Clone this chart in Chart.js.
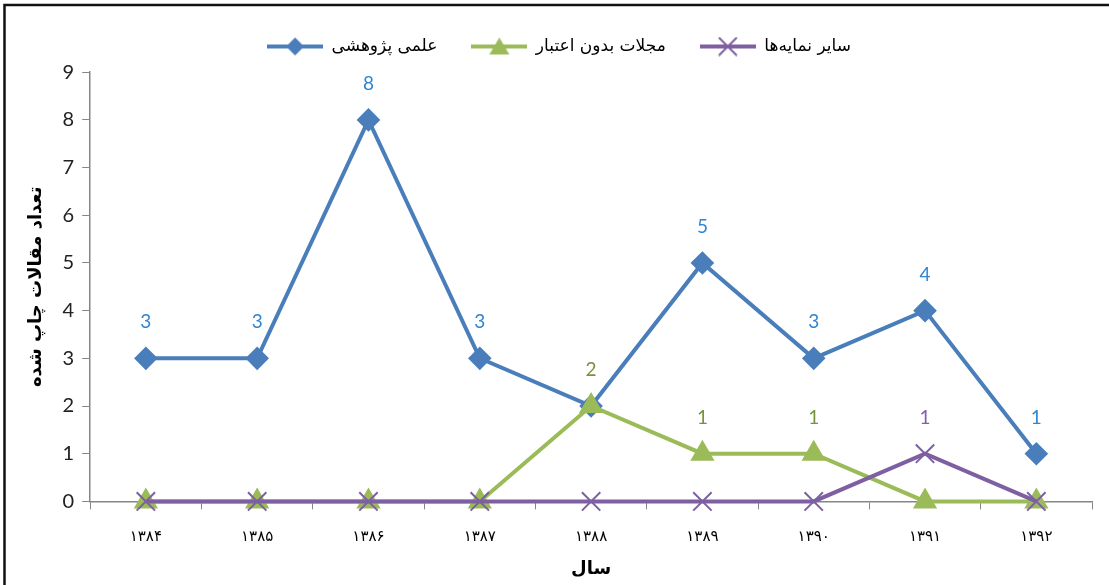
<!DOCTYPE html>
<html>
<head>
<meta charset="utf-8">
<script src="https://cdn.jsdelivr.net/npm/chart.js@4/dist/chart.umd.min.js"></script>
<style>
  body { margin: 0; background: #fff; }
  #wrap { width: 1109px; height: 585px; }
</style>
</head>
<body>
<div id="wrap"><canvas id="papersChart" width="1109" height="585"></canvas></div>
<script>
const years = ["۱۳۸۴", "۱۳۸۵", "۱۳۸۶", "۱۳۸۷", "۱۳۸۸", "۱۳۸۹", "۱۳۹۰", "۱۳۹۱", "۱۳۹۲"];
const scientific = [3, 3, 8, 3, 2, 5, 3, 4, 1];
const unaccredited = [0, 0, 0, 0, 2, 1, 1, 0, 0];
const otherIndexes = [0, 0, 0, 0, 0, 0, 0, 1, 0];
// which points carry a value label in the original
const scientificLabels = [true, true, true, true, false, true, true, true, true];
const unaccreditedLabels = [false, false, false, false, true, true, true, false, false];
const otherLabels = [false, false, false, false, false, false, false, true, false];
const yTicks = [0, 1, 2, 3, 4, 5, 6, 7, 8, 9];

const blue = "#4a7ebb";
const green = "#9bbb59";
const purple = "#7d5fa2";
const persianFont = "'DejaVu Sans', sans-serif";

// small line + marker swatch for the legend
function legendSwatch(color, style) {
    const c = document.createElement("canvas");
    c.width = 56;
    c.height = 20;
    const g = c.getContext("2d");
    g.strokeStyle = color;
    g.fillStyle = color;
    g.lineWidth = 4;
    g.beginPath();
    g.moveTo(0, 10);
    g.lineTo(56, 10);
    g.stroke();
    g.beginPath();
    if (style === "rectRot") {
        g.moveTo(28, 1); g.lineTo(37, 10); g.lineTo(28, 19); g.lineTo(19, 10);
        g.closePath(); g.fill();
    } else if (style === "triangle") {
        g.moveTo(28, 1); g.lineTo(38, 18); g.lineTo(18, 18);
        g.closePath(); g.fill();
    } else {
        g.lineWidth = 2;
        g.moveTo(19, 1); g.lineTo(37, 19);
        g.moveTo(37, 1); g.lineTo(19, 19);
        g.stroke();
    }
    return c;
}

const valueLabels = {
    id: "valueLabels",
    afterDatasetsDraw(chart) {
        const ctx = chart.ctx;
        ctx.save();
        ctx.font = "19px Lato, sans-serif";
        ctx.textAlign = "center";
        ctx.textBaseline = "middle";
        chart.data.datasets.forEach((ds, di) => {
            const meta = chart.getDatasetMeta(di);
            ctx.fillStyle = ds.labelColor;
            meta.data.forEach((pt, i) => {
                if (!ds.showLabels[i]) return;
                ctx.fillText(String(ds.data[i]), pt.x, pt.y - 36);
            });
        });
        ctx.restore();
    }
};

const frame = {
    id: "frame",
    beforeDraw(chart) {
        const ctx = chart.ctx;
        ctx.save();
        ctx.strokeStyle = "#111";
        ctx.lineWidth = 2.5;
        ctx.beginPath();
        ctx.moveTo(4.5, 585);
        ctx.lineTo(4.5, 5);
        ctx.lineTo(1109, 5);
        ctx.stroke();
        ctx.restore();
    }
};

new Chart(document.getElementById("papersChart"), {
    type: "line",
    data: {
        labels: years,
        datasets: [
            {
                label: "علمی پژوهشی",
                data: scientific,
                borderColor: blue,
                backgroundColor: blue,
                borderWidth: 4,
                pointStyle: "rectRot",
                pointRadius: 9,
                pointHoverRadius: 9,
                clip: false,
                labelColor: "#2f86d2",
                showLabels: scientificLabels,
                swatch: legendSwatch(blue, "rectRot"),
                order: 3
            },
            {
                label: "مجلات بدون اعتبار",
                data: unaccredited,
                borderColor: green,
                backgroundColor: green,
                borderWidth: 4,
                pointStyle: "triangle",
                pointRadius: 10,
                pointHoverRadius: 10,
                clip: false,
                labelColor: "#76923c",
                showLabels: unaccreditedLabels,
                swatch: legendSwatch(green, "triangle"),
                order: 2
            },
            {
                label: "سایر نمایه‌ها",
                data: otherIndexes,
                borderColor: purple,
                backgroundColor: purple,
                borderWidth: 4,
                pointStyle: "crossRot",
                pointRadius: 13,
                pointHoverRadius: 13,
                pointBorderWidth: 2,
                clip: false,
                labelColor: "#7f5fa8",
                showLabels: otherLabels,
                swatch: legendSwatch(purple, "cross"),
                order: 1
            }
        ]
    },
    options: {
        responsive: false,
        animation: false,
        layout: { padding: { left: 26, right: 17, top: 4, bottom: 5 } },
        plugins: {
            tooltip: { enabled: false },
            // empty spacer between the legend and the plot
            subtitle: {
                display: true,
                text: " ",
                weight: 500,
                font: { size: 6 },
                padding: 0
            },
            legend: {
                position: "top",
                labels: {
                    color: "#000",
                    font: { family: persianFont, size: 17 },
                    usePointStyle: true,
                    pointStyleWidth: 56,
                    padding: 34,
                    sort: (a, b) => a.datasetIndex - b.datasetIndex,
                    generateLabels(chart) {
                        return chart.data.datasets.map((ds, i) => ({
                            text: ds.label,
                            pointStyle: ds.swatch,
                            fillStyle: ds.borderColor,
                            strokeStyle: ds.borderColor,
                            lineWidth: 0,
                            fontColor: "#000",
                            hidden: false,
                            datasetIndex: i
                        }));
                    }
                }
            }
        },
        scales: {
            x: {
                offset: true,
                grid: {
                    offset: true,
                    drawOnChartArea: false,
                    tickLength: 8,
                    color: "#868686"
                },
                border: { color: "#868686", width: 1.5 },
                ticks: {
                    color: "#000",
                    font: { family: persianFont, size: 15 },
                    padding: 19,
                    maxRotation: 0
                },
                title: {
                    display: true,
                    text: "سال",
                    color: "#000",
                    font: { family: persianFont, size: 18, weight: "bold" },
                    padding: { top: -7, bottom: 0 }
                }
            },
            y: {
                min: 0,
                max: 9,
                afterBuildTicks(scale) {
                    scale.ticks = yTicks.map(v => ({ value: v }));
                },
                grid: {
                    drawOnChartArea: false,
                    tickLength: 8,
                    color: "#868686"
                },
                border: { color: "#868686", width: 1.5 },
                ticks: {
                    color: "#222",
                    font: { family: "Lato, sans-serif", size: 20 },
                    padding: 8
                },
                title: {
                    display: true,
                    text: "تعداد مقالات چاپ شده",
                    color: "#000",
                    font: { family: persianFont, size: 18, weight: "bold" },
                    padding: { top: 0, bottom: 7 }
                }
            }
        }
    },
    plugins: [frame, valueLabels]
});
</script>
</body>
</html>
